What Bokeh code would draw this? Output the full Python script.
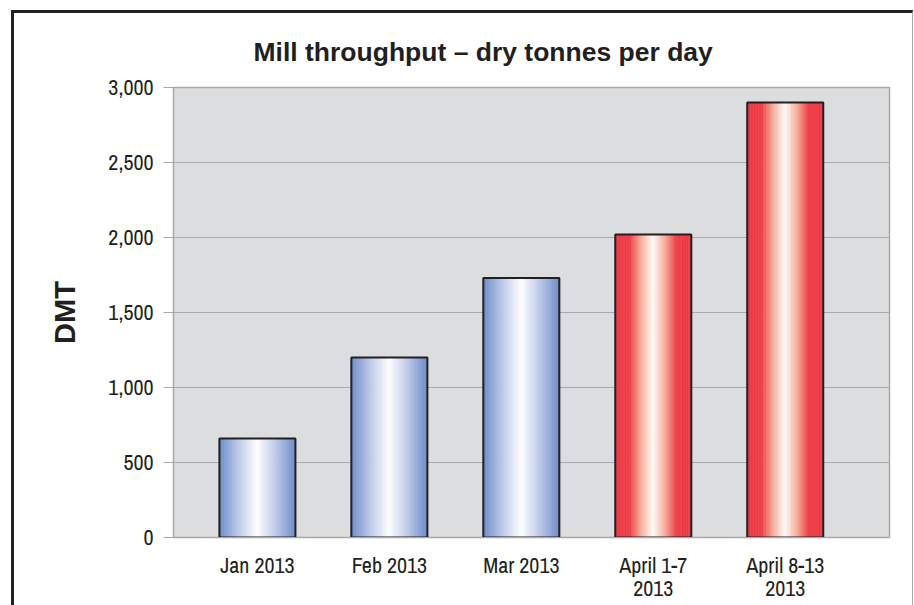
import numpy as np
from bokeh.plotting import figure
from bokeh.models import FixedTicker, NumeralTickFormatter, Range1d
from bokeh.embed import file_html
from bokeh.resources import INLINE

# ---- data ----
categories = ["Jan 2013", "Feb 2013", "Mar 2013", "April 1-7\n2013", "April 8-13\n2013"]
values = [660, 1200, 1730, 2020, 2900]
bar_kind = ["blue", "blue", "blue", "red", "red"]
y_ticks = [0, 500, 1000, 1500, 2000, 2500, 3000]
title_text = "Mill throughput \u2013 dry tonnes per day"
y_label = "DMT"

# ---- styles ----
BAR_W = 0.576
N_STRIPES = 48
profiles = {
    # (d, rgb) where d = 0 at bar centre, 1 at bar edge
    "blue": [(0.0, (255, 255, 255)), (0.5, (188, 201, 232)), (1.0, (108, 140, 202))],
    "red": [(0.0, (255, 252, 250)), (0.33, (246, 170, 150)), (0.62, (238, 62, 72)), (1.0, (238, 58, 70))],
}


def prof_color(kind, d):
    stops = profiles[kind]
    for (d0, c0), (d1, c1) in zip(stops[:-1], stops[1:]):
        if d <= d1:
            t = (d - d0) / (d1 - d0) if d1 > d0 else 0
            c = [round(a + (b - a) * t) for a, b in zip(c0, c1)]
            return "#%02x%02x%02x" % tuple(c)
    return "#%02x%02x%02x" % stops[-1][1]


FONT_NARROW = "Archivo Narrow, Roboto Condensed, Liberation Sans, sans-serif"
FONT_BOLD = "Liberation Sans, Arial, sans-serif"
TEXT = "#231f20"
GRID = "#a7a9ac"

p = figure(
    frame_width=716, frame_height=450,
    x_range=Range1d(-0.636, 4.79), y_range=Range1d(0, 3000),
    output_backend="svg", toolbar_location=None,
    min_border_left=159, min_border_top=74, min_border_right=23, min_border_bottom=40,
    background_fill_color="#dcdddf", border_fill_color="white",
)
p.styles = {
    "margin-left": "11px", "margin-top": "10px",
    "border-left": "3px solid #231f20", "border-top": "3px solid #231f20",
    "border-right": "1px solid #a7a9ac",
}

p.outline_line_color = GRID
p.outline_line_width = 1.5

# gradient stripes
lefts, rights, tops, colors = [], [], [], []
for i, (v, kind) in enumerate(zip(values, bar_kind)):
    x0 = i - BAR_W / 2
    sw = BAR_W / N_STRIPES
    for k in range(N_STRIPES):
        u = (k + 0.5) / N_STRIPES
        d = abs(u - 0.5) / 0.5
        lefts.append(x0 + k * sw)
        rights.append(x0 + (k + 1) * sw)
        tops.append(v)
        colors.append(prof_color(kind, d))
p.quad(left=lefts, right=rights, bottom=0, top=tops, fill_color=colors,
       line_color=colors, line_width=0.6)
p.vbar(x=list(range(len(values))), width=BAR_W, top=values, bottom=0,
       fill_color=None, line_color="#231f20", line_width=2)

# title
p.title.text = title_text
p.title.text_font = FONT_BOLD
p.title.text_font_size = "26.5px"
p.title.text_font_style = "bold"
p.title.text_color = TEXT
p.title.align = "left"
p.title.offset = 80
p.title.standoff = 41

# axes
p.xaxis.ticker = FixedTicker(ticks=list(range(len(categories))))
p.xaxis.major_label_overrides = {i: c for i, c in enumerate(categories)}
p.xaxis.major_tick_line_color = None
p.xaxis.minor_tick_line_color = None
p.xaxis.axis_line_color = GRID
p.xaxis.major_label_text_font = FONT_NARROW
p.xaxis.major_label_text_font_size = "22px"
p.xaxis.major_label_text_color = TEXT
p.xaxis.major_label_text_line_height = 0.78
p.xaxis.major_label_standoff = 6

p.yaxis.ticker = FixedTicker(ticks=y_ticks)
p.yaxis.formatter = NumeralTickFormatter(format="0,0")
p.yaxis.major_tick_out = 10
p.yaxis.major_tick_in = 0
p.yaxis.major_tick_line_color = GRID
p.yaxis.minor_tick_line_color = None
p.yaxis.axis_line_color = GRID
p.yaxis.major_label_text_font = FONT_NARROW
p.yaxis.major_label_text_font_size = "22px"
p.yaxis.major_label_text_color = TEXT
p.yaxis.major_label_standoff = 10
p.yaxis.axis_label = y_label
p.yaxis.axis_label_text_font = FONT_BOLD
p.yaxis.axis_label_text_font_size = "29px"
p.yaxis.axis_label_text_font_style = "bold"
p.yaxis.axis_label_text_color = TEXT
p.yaxis.axis_label_standoff = 24

p.xgrid.grid_line_color = None
p.ygrid.grid_line_color = GRID
p.ygrid.grid_line_width = 1

open("out.html", "w").write(file_html(p, INLINE))
